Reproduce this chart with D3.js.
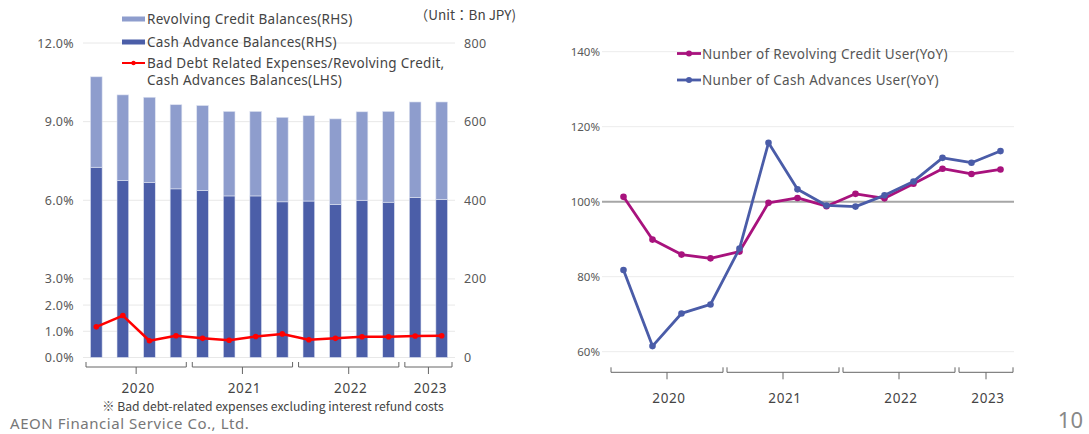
<!DOCTYPE html>
<html><head><meta charset="utf-8">
<script src="https://cdn.jsdelivr.net/npm/d3@7"></script>
<style>
body{margin:0;background:#fff;}
svg{display:block;font-family:"Noto Sans","Noto Sans CJK JP",sans-serif;}
</style></head><body>
<svg id="c" width="1089" height="434"></svg>
<script>
// ---- data ----
const quarters = ["2020Q1","2020Q2","2020Q3","2020Q4","2021Q1","2021Q2","2021Q3","2021Q4","2022Q1","2022Q2","2022Q3","2022Q4","2023Q1","2023Q2"];
const years = ["2020","2021","2022","2023"];
const yearOf = ["2020","2020","2020","2020","2021","2021","2021","2021","2022","2022","2022","2022","2023","2023"];
const cashAdvance = [484,450,445,429,425,411,411,396,398,389,400,395,407,402];
const revolving = [230,218,217,214,216,215,215,215,217,218,225,231,243,248];
const badDebtRatio = [1.17,1.60,0.64,0.83,0.73,0.66,0.80,0.90,0.68,0.73,0.79,0.79,0.82,0.83];
const revolvingUsers = [101.3,89.9,85.9,84.9,86.7,99.7,101.0,98.8,102.1,100.9,104.8,108.8,107.4,108.6];
const cashUsers = [81.8,61.5,70.2,72.6,87.5,115.7,103.3,99.0,98.7,101.7,105.4,111.7,110.4,113.5];
const lhsTicks = [0,1,2,3,6,9,12];
const rhsTicks = [0,200,400,600,800];
const rTicks = [60,80,100,120,140];

const svg = d3.select("#c");
const txt = "#595959";

// ---- left chart ----
const xL = d3.scaleBand().domain(quarters).range([83,455]).paddingInner(0.56).paddingOuter(0.28);
const xLb = d3.scaleBand().domain(quarters).range([83,455]);
const yR = d3.scaleLinear().domain([0,800]).range([357.5,43]);
const yLp = d3.scaleLinear().domain([0,12]).range([357.5,43]);

const gL = svg.append("g");
gL.selectAll("line.grid").data(lhsTicks).join("line")
  .attr("x1",83).attr("x2",455).attr("y1",d=>yLp(d)).attr("y2",d=>yLp(d))
  .attr("stroke","#e8e8e8").attr("stroke-width",1);

const axL = d3.axisLeft(yLp).tickValues(lhsTicks).tickFormat(d=>d.toFixed(1)+"%").tickSize(0).tickPadding(0);
const gaxL = gL.append("g").attr("transform","translate(74,0)").call(axL);
const axR = d3.axisRight(yR).tickValues(rhsTicks).tickSize(0).tickPadding(0);
const gaxR = gL.append("g").attr("transform","translate(464,0)").call(axR);
[gaxL,gaxR].forEach(g=>{g.select(".domain").remove();g.selectAll("text").attr("fill",txt).attr("font-size",12.5).attr("letter-spacing",0.3).attr("font-family","Noto Sans, sans-serif");});

// bars
const bw = xL.bandwidth();
gL.selectAll("rect.cash").data(quarters).join("rect")
  .attr("x",d=>xL(d)).attr("width",bw)
  .attr("y",(d,i)=>yR(cashAdvance[i])).attr("height",(d,i)=>yR(0)-yR(cashAdvance[i]))
  .attr("fill","#4b5ea8").attr("stroke","#dfe4f2").attr("stroke-width",0.6);
gL.selectAll("rect.rev").data(quarters).join("rect")
  .attr("x",d=>xL(d)).attr("width",bw)
  .attr("y",(d,i)=>yR(cashAdvance[i]+revolving[i])).attr("height",(d,i)=>yR(cashAdvance[i])-yR(cashAdvance[i]+revolving[i]))
  .attr("fill","#8e9dcd").attr("stroke","#dfe4f2").attr("stroke-width",0.6);

// red line
const cxL = d=>xLb(d)+xLb.bandwidth()/2;
gL.append("path").datum(quarters)
  .attr("d",d3.line().x(d=>cxL(d)).y((d,i)=>yLp(badDebtRatio[i])))
  .attr("fill","none").attr("stroke","#ff0000").attr("stroke-width",2.5).attr("stroke-linejoin","round");
gL.selectAll("circle.r").data(quarters).join("circle")
  .attr("cx",d=>cxL(d)).attr("cy",(d,i)=>yLp(badDebtRatio[i])).attr("r",2.8).attr("fill","#ff0000");

// year brackets
function brackets(g, xb, yLine, yLabel, inset){
  years.forEach(y=>{
    const qs = quarters.filter((q,i)=>yearOf[i]===y);
    const x0 = xb(qs[0])+inset, x1 = xb(qs[qs.length-1])+xb.bandwidth()-inset, xm=(x0+x1)/2;
    g.append("path").attr("d",`M${x0},${yLine-5}V${yLine}H${x1}V${yLine-5}M${xm},${yLine}V${yLine+7}`)
      .attr("fill","none").attr("stroke","#666").attr("stroke-width",1);
    g.append("text").attr("x",xm+2).attr("y",yLabel).attr("text-anchor","middle")
      .attr("font-size",13.5).attr("fill","#444").attr("letter-spacing",0.6).text(y);
  });
}
brackets(gL, xLb, 367, 393, 3);

// left legend
const legL = [
  {t:["Revolving Credit Balances(RHS)"], type:"bar", c:"#8e9dcd", y:19},
  {t:["Cash Advance Balances(RHS)"], type:"bar", c:"#4b5ea8", y:42},
  {t:["Bad Debt Related Expenses/Revolving Credit,","Cash Advances Balances(LHS)"], type:"line", c:"#ff0000", y:63}
];
legL.forEach(l=>{
  if(l.type==="bar") gL.append("rect").attr("x",122).attr("y",l.y-2.5).attr("width",23).attr("height",5).attr("fill",l.c);
  else { gL.append("line").attr("x1",122).attr("x2",145).attr("y1",l.y).attr("y2",l.y).attr("stroke",l.c).attr("stroke-width",2);
         gL.append("circle").attr("cx",133.5).attr("cy",l.y).attr("r",2.2).attr("fill",l.c); }
  l.t.forEach((s,k)=>gL.append("text").attr("x",147).attr("y",l.y+5+k*17).attr("font-size",13.5).attr("letter-spacing",0.3).attr("fill","#444").text(s));
});
gL.append("text").attr("x",516).attr("y",20).attr("text-anchor","end").attr("font-size",13.5).attr("fill","#444")
  .attr("font-family","Noto Sans CJK JP, sans-serif").text("（Unit：Bn JPY)");

// footnote & footer
svg.append("text").attr("x",273).attr("y",411).attr("text-anchor","middle").attr("font-size",12.2).attr("fill","#444")
  .attr("font-family","Noto Sans CJK JP, sans-serif").text("※ Bad debt-related expenses excluding interest refund costs");
svg.append("text").attr("x",10).attr("y",428.5).attr("font-size",15).attr("letter-spacing",0.55).attr("fill","#777").text("AEON Financial Service Co., Ltd.");
svg.append("text").attr("x",1083).attr("y",428).attr("text-anchor","end").attr("font-size",22).attr("fill","#888").text("10");

// ---- right chart ----
const xP = d3.scaleBand().domain(quarters).range([609,1015]);
const cxP = d=>xP(d)+xP.bandwidth()/2;
const yP = d3.scaleLinear().domain([60,140]).range([351.7,51.7]);
const gR = svg.append("g");
gR.selectAll("line.grid").data(rTicks).join("line")
  .attr("x1",602).attr("x2",1014).attr("y1",d=>yP(d)).attr("y2",d=>yP(d))
  .attr("stroke",d=>d===100?"#a6a6a6":"#ececec").attr("stroke-width",d=>d===100?2:1);
const axP = d3.axisLeft(yP).tickValues(rTicks).tickFormat(d=>d+"%").tickSize(0).tickPadding(0);
const gaxP = gR.append("g").attr("transform","translate(600,0)").call(axP);
gaxP.select(".domain").remove();
gaxP.selectAll("text").attr("fill",txt).attr("font-size",11.5).attr("font-family","Noto Sans, sans-serif");

const seriesR = [
  {v:revolvingUsers, c:"#a8127d", name:"Nunber of Revolving Credit User(YoY)", ly:53.5},
  {v:cashUsers, c:"#4a5ca8", name:"Nunber of Cash Advances User(YoY)", ly:80}
];
seriesR.forEach(s=>{
  gR.append("path").datum(quarters)
    .attr("d",d3.line().x(d=>cxP(d)).y((d,i)=>yP(s.v[i])))
    .attr("fill","none").attr("stroke",s.c).attr("stroke-width",2.8).attr("stroke-linejoin","round");
  gR.selectAll(null).data(quarters).join("circle")
    .attr("cx",d=>cxP(d)).attr("cy",(d,i)=>yP(s.v[i])).attr("r",3.3).attr("fill",s.c);
  gR.append("line").attr("x1",677).attr("x2",701).attr("y1",s.ly).attr("y2",s.ly).attr("stroke",s.c).attr("stroke-width",2.8);
  gR.append("circle").attr("cx",689).attr("cy",s.ly).attr("r",3).attr("fill",s.c);
  gR.append("text").attr("x",702).attr("y",s.ly+5).attr("font-size",13.5).attr("letter-spacing",0.3).attr("fill","#555").text(s.name);
});
brackets(gR, xP, 372.3, 403, 2);
</script>
</body></html>
